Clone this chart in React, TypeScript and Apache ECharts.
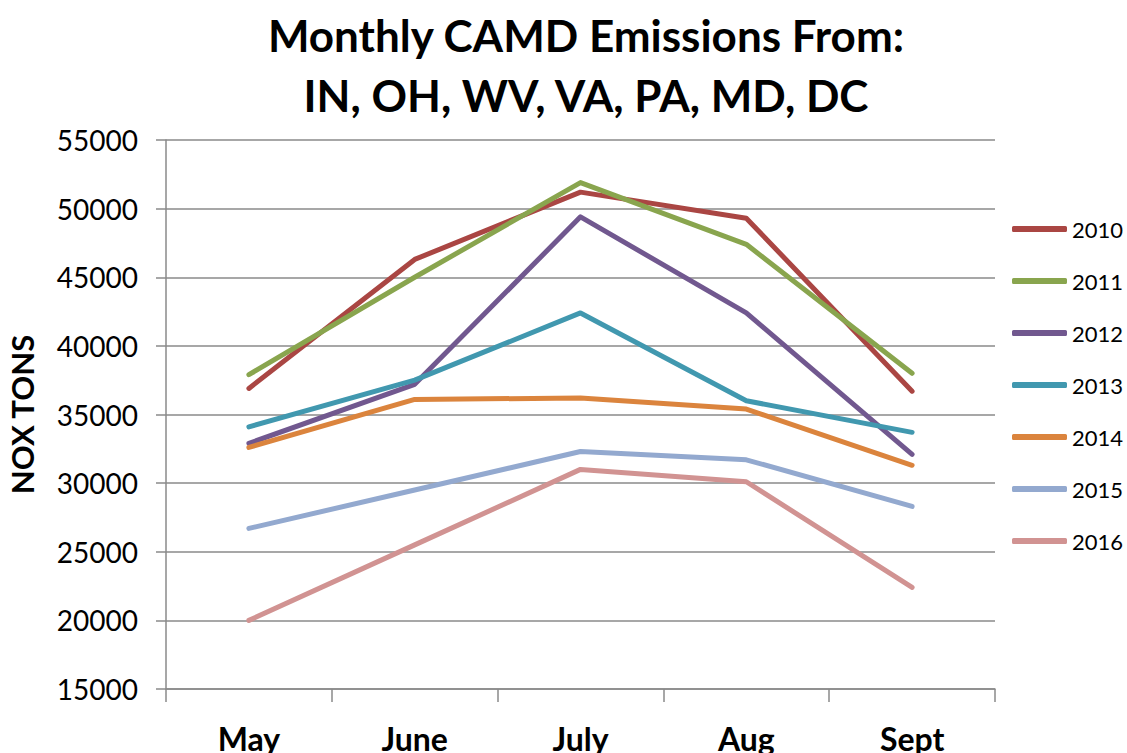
import React, { useEffect, useRef } from "react";
import * as echarts from "echarts";

const months = ["May", "June", "July", "Aug", "Sept"];
const years = ["2010", "2011", "2012", "2013", "2014", "2015", "2016"];
const s2010 = [36900, 46300, 51200, 49300, 36700];
const s2011 = [37900, 45000, 51900, 47400, 38000];
const s2012 = [32900, 37200, 49400, 42400, 32100];
const s2013 = [34100, 37500, 42400, 36000, 33700];
const s2014 = [32600, 36100, 36200, 35400, 31300];
const s2015 = [26700, 29500, 32300, 31700, 28300];
const s2016 = [20000, 25500, 31000, 30100, 22400];
const seriesValues = [s2010, s2011, s2012, s2013, s2014, s2015, s2016];
const colors = ["#AA4643", "#89A54E", "#71588F", "#4198AF", "#DB843D", "#93A9CF", "#D19392"];

const FONT = "Lato, 'Open Sans', sans-serif";

export default function App() {
  const ref = useRef<HTMLDivElement>(null);
  useEffect(() => {
    if (!ref.current) return;
    const chart = echarts.init(ref.current, undefined, { renderer: "svg" });
    chart.setOption({
      animation: false,
      color: colors,
      textStyle: { fontFamily: FONT },
      title: {
        text: "Monthly CAMD Emissions From:\nIN, OH, WV, VA, PA, MD, DC",
        left: 581,
        top: 0,
        textAlign: "center",
        textStyle: {
          fontFamily: FONT,
          fontSize: 44,
          fontWeight: "bold",
          color: "#000",
          lineHeight: 60,
        },
      },
      legend: {
        orient: "vertical",
        left: 1007,
        top: 213,
        itemWidth: 55,
        itemHeight: 6,
        itemGap: 30,
        icon: "roundRect",
        data: years,
        textStyle: { fontFamily: FONT, fontSize: 22, color: "#000", lineHeight: 22 },
      },
      grid: {
        left: 166,
        right: 132,
        top: 140,
        bottom: 64,
        containLabel: false,
        outerBoundsMode: "none",
      },
      xAxis: {
        type: "category",
        data: months,
        boundaryGap: true,
        axisLine: { lineStyle: { color: "#8a8a8a", width: 1.5 } },
        axisTick: { show: true, length: 13, lineStyle: { color: "#8a8a8a", width: 1.5 } },
        axisLabel: {
          margin: 33,
          fontFamily: FONT,
          fontSize: 32,
          fontWeight: "bold",
          color: "#000",
        },
        splitLine: { show: false },
      },
      yAxis: {
        type: "value",
        min: 15000,
        max: 55000,
        interval: 5000,
        name: "NOX TONS",
        nameLocation: "middle",
        nameRotate: 90,
        nameGap: 129,
        nameTextStyle: { fontFamily: FONT, fontSize: 31, fontWeight: "bold", color: "#000" },
        axisLine: { show: true, lineStyle: { color: "#8a8a8a", width: 1.5 } },
        axisTick: { show: true, length: 10, lineStyle: { color: "#8a8a8a", width: 1.5 } },
        axisLabel: {
          margin: 28,
          fontFamily: FONT,
          fontSize: 28,
          color: "#000",
          formatter: (v: number) => String(v),
        },
        splitLine: { show: true, lineStyle: { color: "#8a8a8a", width: 1.5 } },
      },
      series: years.map((y, i) => ({
        name: y,
        type: "line",
        data: seriesValues[i],
        symbol: "none",
        lineStyle: { width: 5, color: colors[i], cap: "round", join: "round" },
        itemStyle: { color: colors[i] },
      })),
    });
    return () => chart.dispose();
  }, []);
  return <div ref={ref} style={{ width: 1127, height: 753, position: "absolute", left: 0, top: 0 }} />;
}
